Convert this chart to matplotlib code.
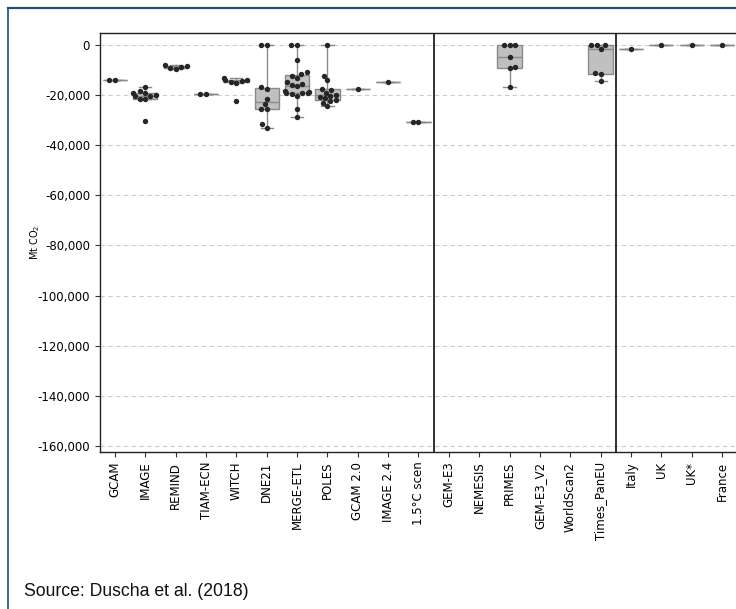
import matplotlib
matplotlib.use("Agg")
import matplotlib.pyplot as plt
import matplotlib.ticker as mticker
from matplotlib.lines import Line2D
import numpy as np
import pandas as pd
import seaborn as sns

categories = ["GCAM", "IMAGE", "REMIND", "TIAM-ECN", "WITCH", "DNE21", "MERGE-ETL",
              "POLES", "GCAM 2.0", "IMAGE 2.4", "1.5°C scen", "GEM-E3", "NEMESIS",
              "PRIMES", "GEM-E3_V2", "WorldScan2", "Times_PanEU", "Italy", "UK", "UK*",
              "France"]

gcam = [-14000, -14000]
image = [-16700, -18300, -19300, -19300, -20000, -20300, -20500, -21700, -21700, -30300]
remind = [-8000, -8400, -8700, -9000, -9400]
tiam = [-19400, -19600]
witch = [-13100, -13800, -14000, -14300, -14700, -15000, -22200]
dne21 = [0, 0, -16900, -17700, -21700, -23600, -25600, -25600, -31700, -33100]
merge = [0, 0, -6000, -10900, -11700, -12200, -13100, -14700, -15500, -16000, -16500,
         -18200, -18800, -19000, -19300, -19300, -19500, -20300, -25600, -28900]
poles = [0, -12400, -14000, -17500, -18000, -19000, -19800, -20300, -20700, -21300,
         -22000, -22500, -23300, -24400]
gcam20 = [-17600]
image24 = [-14900]
scen15 = [-30800, -30800]
gem_e3 = []
nemesis = []
primes = [0, 0, 0, -4700, -8900, -9300, -16900]
gem_e3_v2 = []
worldscan2 = []
times_paneu = [0, 0, 0, -1500, -11300, -11500, -14500]
italy = [-1500]
uk = [0]
uk_star = [0]
france = [0]

values = [gcam, image, remind, tiam, witch, dne21, merge, poles, gcam20, image24, scen15,
          gem_e3, nemesis, primes, gem_e3_v2, worldscan2, times_paneu, italy, uk, uk_star,
          france]

# groups whose whiskers span the full data range
full_range = {"DNE21", "MERGE-ETL", "POLES"}

yticks = [0, -20000, -40000, -60000, -80000, -100000, -120000, -140000, -160000]

rows = [(c, v) for c, vals in zip(categories, values) for v in vals]
df = pd.DataFrame(rows, columns=["model", "value"])

fig = plt.figure(figsize=(7.36, 6.09), dpi=100)
ax = fig.add_axes([99.8 / 736, 157 / 609, 637.4 / 736, 419 / 609])

sns.swarmplot(data=df, x="model", y="value", order=categories, color="#262626",
              size=3.9, ax=ax, zorder=3)

box_face = "#c0c0c0"
line_col = "#8a8a8a"
for i, (c, vals) in enumerate(zip(categories, values)):
    if not vals:
        continue
    ax.boxplot([vals], positions=[i], widths=0.8, patch_artist=True,
               showfliers=False, manage_ticks=False,
               whis=(0, 100) if c in full_range else 1.5,
               boxprops=dict(facecolor=box_face, edgecolor=line_col, linewidth=1.0),
               medianprops=dict(color=line_col, linewidth=1.0),
               whiskerprops=dict(color=line_col, linewidth=1.0),
               capprops=dict(color=line_col, linewidth=1.0),
               zorder=2)

ax.set_xlim(-0.5, len(categories) - 0.5)
ax.set_ylim(-162400, 4790)
ax.set_yticks(yticks)
ax.yaxis.set_major_formatter(mticker.FuncFormatter(lambda v, p: f"{v:,.0f}"))
ax.set_xticks(range(len(categories)))
ax.set_xticklabels(categories, rotation=90, fontsize=8.5)
ax.tick_params(axis="y", labelsize=8.5, length=3.5, width=0.8, color="#333333")
ax.tick_params(axis="x", length=3.5, width=0.8, color="#333333")
ax.set_xlabel("")
ax.set_ylabel("Mt CO$_2$", fontsize=7, labelpad=-3)
ax.yaxis.grid(True, linestyle=(0, (4, 3)), color="#cccccc", linewidth=0.8, zorder=0)
ax.set_axisbelow(True)
for s in ax.spines.values():
    s.set_color("#222222")
    s.set_linewidth(1.0)

ax.axvline(10.5, color="#222222", linewidth=1.3, zorder=4)
ax.axvline(16.5, color="#222222", linewidth=1.3, zorder=4)

fig.text(24 / 736, 17 / 609, "Source: Duscha et al. (2018)", fontsize=12.7,
         family="Liberation Sans", va="center", ha="left", color="#111111")

border = "#1f4e79"
fig.add_artist(Line2D([7.5 / 736, 1.0], [1 - 8 / 609, 1 - 8 / 609], color=border,
                      linewidth=1.6, transform=fig.transFigure))
fig.add_artist(Line2D([7.5 / 736, 7.5 / 736], [0, 1 - 8 / 609], color=border,
                      linewidth=1.2, transform=fig.transFigure))

fig.savefig("out.png", dpi=100)
